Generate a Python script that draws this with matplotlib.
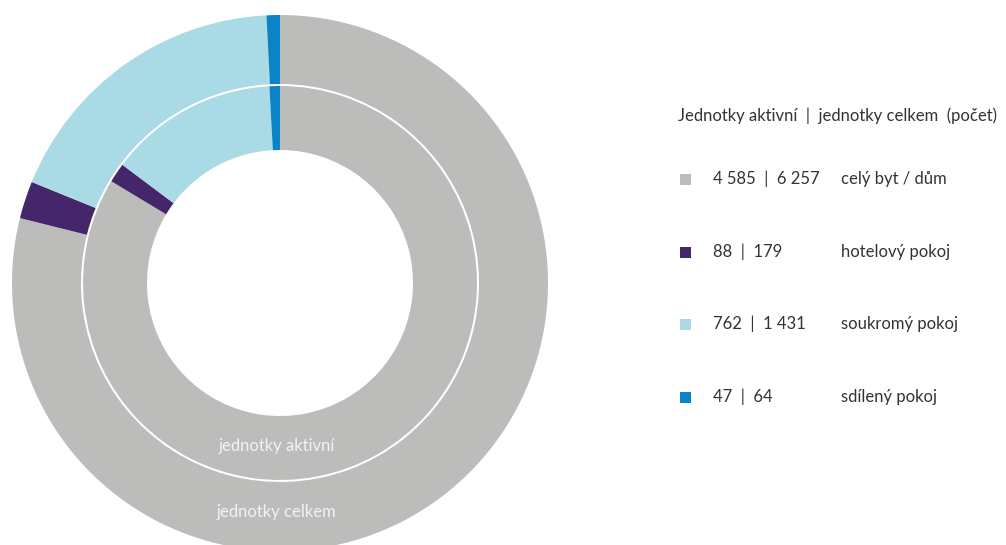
import matplotlib
matplotlib.use("Agg")
import matplotlib.pyplot as plt
from matplotlib.patches import Rectangle

plt.rcParams['font.family'] = ['Lato', 'DejaVu Sans']

# Unit types and counts
categories = ["celý byt / dům", "hotelový pokoj", "soukromý pokoj", "sdílený pokoj"]
active_units = [4585, 88, 762, 47]
total_units = [6257, 179, 1431, 64]
colors = ["#bcbcbb", "#46266a", "#a9dae6", "#0a84c6"]

legend_title = "Jednotky aktivní  |  jednotky celkem  (počet)"
ring_labels = ["jednotky aktivní", "jednotky celkem"]

W, H = 1006, 545


def fmt(v):
    return f"{v:,}".replace(",", " ")


fig = plt.figure(figsize=(W / 100, H / 100), dpi=100)
ax = fig.add_axes([0, 0, 1, 1])

cx, cy = 280, H - 283

# Outer ring: total units
ax.pie(total_units, colors=colors, startangle=90, counterclock=False,
       radius=268, center=(cx, cy),
       wedgeprops=dict(width=69, linewidth=0))
# Inner ring: active units
ax.pie(active_units, colors=colors, startangle=90, counterclock=False,
       radius=197, center=(cx, cy),
       wedgeprops=dict(width=64, linewidth=0))

ax.set_xlim(0, W)
ax.set_ylim(0, H)
ax.set_aspect('equal')
ax.axis('off')

text_color = "#333333"

# Ring captions
ax.text(277, H - 446, ring_labels[0], color="#f2f2f2", fontsize=12,
        ha='center', va='center')
ax.text(276, H - 512, ring_labels[1], color="#f2f2f2", fontsize=12,
        ha='center', va='center')

# Legend
ax.text(678, H - 116, legend_title, color=text_color, fontsize=12,
        ha='left', va='center')
rows_y = [179, 252, 324, 397]
for y, cat, a, t, c in zip(rows_y, categories, active_units, total_units, colors):
    ax.add_patch(Rectangle((680, H - y - 5.5), 11, 11, facecolor=c, edgecolor='none'))
    ax.text(713, H - y, f"{fmt(a)}  |  {fmt(t)}", color=text_color, fontsize=12,
            ha='left', va='center')
    ax.text(841, H - y, cat, color=text_color, fontsize=12,
            ha='left', va='center')

fig.savefig("out.png", dpi=100, facecolor='white')
